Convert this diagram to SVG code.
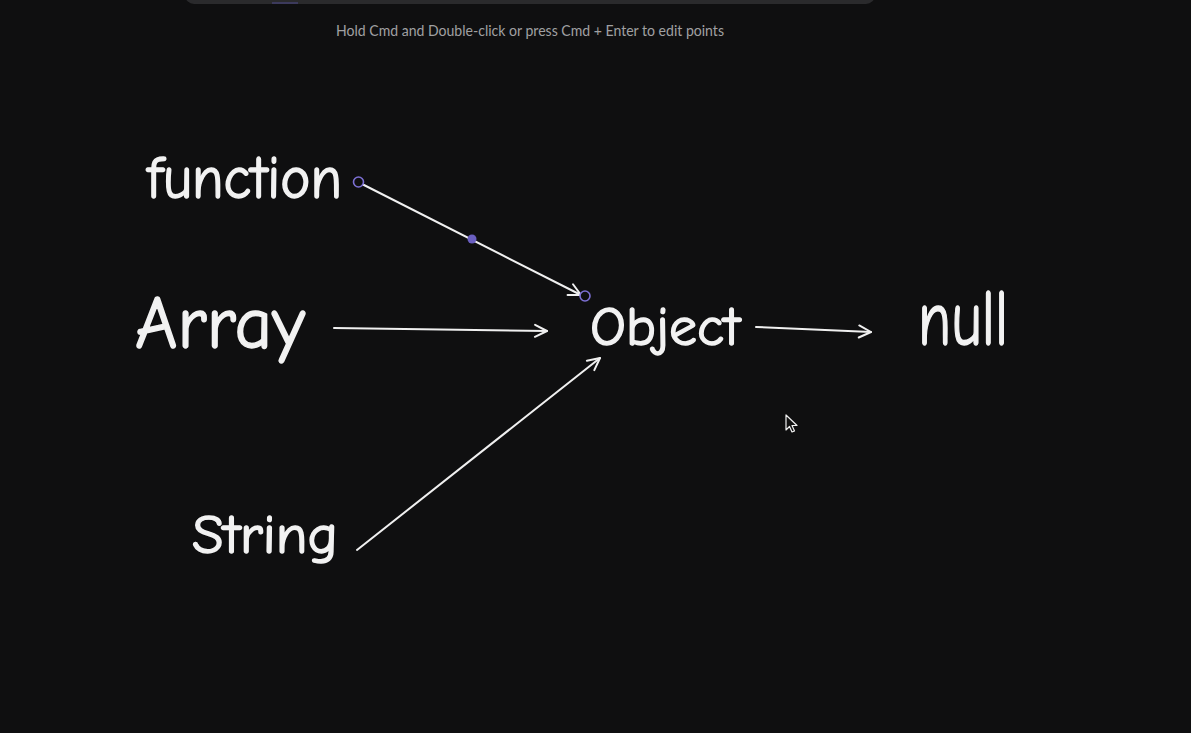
<svg xmlns="http://www.w3.org/2000/svg" width="1191" height="733" viewBox="0 0 1191 733">
  <style>
    .label { fill: #f2f2f2; stroke: #f2f2f2; stroke-width: 1.4; stroke-linejoin: round; font-family: "Comic Neue", "Noto Sans", "Liberation Sans", sans-serif; }
    .edge { stroke: #f0f0f0; stroke-width: 2; fill: none; stroke-linecap: round; }
    .hint { fill: #a0a0a2; font-family: "Lato", "Open Sans", sans-serif; font-size: 15px; }
    .handle { fill: #0f0f10; stroke: #7d70d4; stroke-width: 1.6; }
  </style>
  <defs>
    <marker id="arrow" viewBox="-14 -8 16 16" markerWidth="16" markerHeight="16" refX="0" refY="0" orient="auto" markerUnits="userSpaceOnUse">
      <path d="M -12 -6 L 0 0 L -12 6" fill="none" stroke="#f0f0f0" stroke-width="2" stroke-linecap="round" stroke-linejoin="round"/>
    </marker>
  </defs>

  <rect width="1191" height="733" fill="#0f0f10"/>

  <!-- toolbar edge at the top -->
  <rect x="185" y="-20" width="690" height="24" rx="9" fill="#2a2a2c"/>
  <line x1="272" y1="3" x2="298" y2="3" stroke="#3c3a5c" stroke-width="2"/>
  <text class="hint" x="530" y="36" text-anchor="middle" textLength="388" lengthAdjust="spacingAndGlyphs">Hold Cmd and Double-click or press Cmd + Enter to edit points</text>

  <!-- connectors -->
  <g id="connectors">
    <line class="edge" x1="358" y1="182" x2="581" y2="295" marker-end="url(#arrow)"/>
    <line class="edge" x1="334" y1="328" x2="547" y2="331" marker-end="url(#arrow)"/>
    <line class="edge" x1="357" y1="550" x2="600" y2="358" stroke-width="1.6" marker-end="url(#arrow)"/>
    <line class="edge" x1="756" y1="327" x2="871" y2="332" marker-end="url(#arrow)"/>
    <!-- selection handles on the function edge -->
    <circle class="handle" cx="358.5" cy="182" r="5"/>
    <circle cx="472" cy="239" r="4.5" fill="#6a5fc0"/>
    <circle class="handle" cx="585" cy="296" r="5"/>
  </g>

  <!-- nodes -->
  <g id="node-function">
    <text class="label" x="147" y="198" font-size="60" textLength="195" lengthAdjust="spacingAndGlyphs">function</text>
  </g>
  <g id="node-array">
    <text class="label" x="135" y="348" font-size="74" textLength="170" lengthAdjust="spacingAndGlyphs">Array</text>
  </g>
  <g id="node-object">
    <text class="label" x="590" y="345" font-size="54" textLength="150" lengthAdjust="spacingAndGlyphs">Object</text>
  </g>
  <g id="node-null">
    <text class="label" x="918" y="345" font-size="78" textLength="90" lengthAdjust="spacingAndGlyphs">null</text>
  </g>
  <g id="node-string">
    <text class="label" x="192" y="553" font-size="54" textLength="146" lengthAdjust="spacingAndGlyphs">String</text>
  </g>

  <!-- mouse pointer -->
  <path d="M 786 415 L 786 430 L 789.5 426.5 L 792 432 L 794.5 431 L 792 425.5 L 797 425.5 Z" fill="#111" stroke="#f0f0f0" stroke-width="1.2" stroke-linejoin="round"/>
</svg>
